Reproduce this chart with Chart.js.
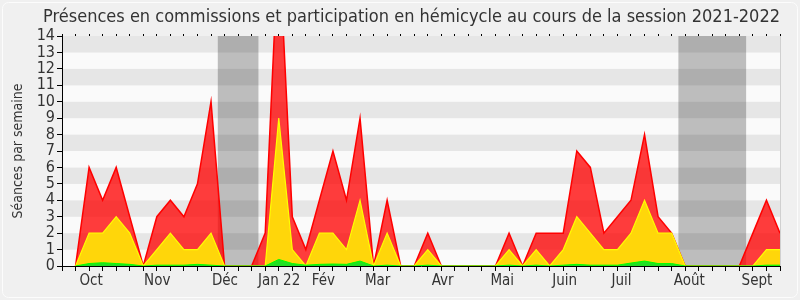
<!DOCTYPE html>
<html><head><meta charset="utf-8">
<script src="https://cdn.jsdelivr.net/npm/chart.js@4/dist/chart.umd.min.js"></script>
<style>html,body{margin:0;padding:0;background:#f0f0f0}</style>
</head><body>
<canvas id="c" width="800" height="300" style="width:800px;height:300px;display:block"></canvas>
<script>
// week index (one per week of the session)
const weeks = [0,1,2,3,4,5,6,7,8,9,10,11,12,13,14,15,16,17,18,19,20,21,22,23,24,25,26,27,28,29,30,31,32,33,34,35,36,37,38,39,40,41,42,43,44,45,46,47,48,49,50,51,52,53];
// total presences (commissions + hemicycle)
const presences = [null,0,6,4,6,3,0,3,4,3,5,10,0,0,0,2,20,3,1,4,7,4,9,0,4,0,0,2,0,0,0,0,0,2,0,2,2,2,7,6,2,3,4,8,3,2,0,0,0,0,0,2,4,2];
// participation in hemicycle
const participations = [null,0,2,2,3,2,0,1,2,1,1,2,0,0,0,0,9,1,0,2,2,1,4,0,2,0,0,1,0,0,0,0,0,1,0,1,0,1,3,2,1,1,2,4,2,2,0,0,0,0,0,0,1,1];
// interventions
const interventions = [null,0,0.15,0.2,0.15,0.1,0,0.05,0.05,0.05,0.1,0.05,0,0,0,0,0.4,0.15,0.05,0.1,0.12,0.1,0.3,0,0.05,0,0,0.05,0,0,0,0,0,0.05,0,0.05,0,0.05,0.1,0.05,0.05,0.05,0.18,0.3,0.15,0.15,0,0,0,0,0,0,0.05,0.05];
// month labels and their positions on the week axis
const monthLabels = ['Oct','Nov','Déc','Jan 22','Fév','Mar','Avr','Mai','Juin','Juil','Août','Sept'];
const monthPos = [2.15,7.03,12.03,16.03,19.3,23.3,28.1,32.5,37.1,41.3,46.3,51.3];
// parliamentary holidays (week ranges)
const holidayStart = [11.5,45.5];
const holidayEnd = [14.5,50.5];
const yTicks = [0,1,2,3,4,5,6,7,8,9,10,11,12,13,14];

const FONT = "'DejaVu Sans Condensed','DejaVu Sans',sans-serif";
const toPts = arr => arr.map((v,i)=>({x:weeks[i], y:v}));

const bgPlugin = {
  id:'bg',
  beforeDraw(chart){
    const {ctx, chartArea:a, scales} = chart;
    ctx.save();
    ctx.fillStyle = '#f0f0f0';
    ctx.fillRect(0,0,chart.width,chart.height);
    ctx.strokeStyle = '#fcfcfc';
    ctx.lineWidth = 1;
    ctx.beginPath();
    if (ctx.roundRect) ctx.roundRect(2.5,2.5,chart.width-5,chart.height-5,6); else ctx.rect(2.5,2.5,chart.width-5,chart.height-5);
    ctx.stroke();
    const y = scales.y;
    for (let i=0;i<yTicks.length-1;i++){
      const y0 = y.getPixelForValue(yTicks[i]), y1 = y.getPixelForValue(yTicks[i+1]);
      ctx.fillStyle = (i%2===1) ? '#e6e6e6' : '#fafafa';
      ctx.fillRect(a.left, y1, a.right-a.left, y0-y1);
    }
    const x = scales.x;
    ctx.fillStyle = 'rgba(0,0,0,0.245)';
    for (let k=0;k<holidayStart.length;k++){
      const x0 = x.getPixelForValue(holidayStart[k]), x1 = x.getPixelForValue(holidayEnd[k]);
      ctx.fillRect(x0, a.top, x1-x0, a.bottom-a.top);
    }
    ctx.strokeStyle = '#d0d0d0';
    ctx.beginPath(); ctx.moveTo(a.right+0.5,a.top); ctx.lineTo(a.right+0.5,a.bottom); ctx.stroke();
    ctx.restore();
  }
};

const isMonth = v => monthPos.indexOf(v) >= 0;

new Chart(document.getElementById('c'), {
  type:'line',
  data:{
    datasets:[
      {label:'Interventions', data:toPts(interventions), borderColor:'#00ff00', backgroundColor:'#22e022', borderWidth:1, fill:'origin', pointRadius:0, tension:0, order:1},
      {label:'Participations', data:toPts(participations), borderColor:'#ffff00', backgroundColor:'#ffd60a', borderWidth:1.2, fill:'origin', pointRadius:0, tension:0, order:2},
      {label:'Présences', data:toPts(presences), borderColor:'#ff0000', backgroundColor:'rgba(255,0,0,0.76)', borderWidth:1.5, fill:'origin', pointRadius:0, tension:0, order:3}
    ]
  },
  options:{
    responsive:false, animation:false, devicePixelRatio:1,
    layout:{padding:{left:10,right:20,top:0,bottom:0}},
    plugins:{
      legend:{display:false}, tooltip:{enabled:false},
      title:{display:true, align:'end', text:'Présences en commissions et participation en hémicycle au cours de la session 2021-2022', color:'#333', font:{family:FONT, size:18, weight:'normal'}, padding:{top:7,bottom:2}}
    },
    scales:{
      x:{type:'linear', position:'bottom', min:0, max:53,
        afterBuildTicks(s){ const t = weeks.concat(monthPos).sort((p,q)=>p-q); s.ticks = t.map(v=>({value:v})); },
        afterFit(s){ s.height = 34; },
        ticks:{autoSkip:false, maxRotation:0, padding:1, color:'#333', font:{family:FONT,size:15},
          callback(v){ const k = monthPos.indexOf(v); return k>=0 ? monthLabels[k] : ''; }},
        grid:{drawOnChartArea:false, drawTicks:true, tickLength:5, color:(c)=> (c.tick && isMonth(c.tick.value)) ? 'rgba(0,0,0,0)' : '#000'},
        border:{display:true, color:'#000', width:1}
      },
      x2:{type:'linear', position:'top', min:0, max:53,
        afterBuildTicks(s){ s.ticks = weeks.map(v=>({value:v})); },
        afterFit(s){ s.height = 5.4; },
        ticks:{display:false},
        grid:{drawOnChartArea:false, drawTicks:true, tickLength:2, color:'#000'},
        border:{display:false}
      },
      y:{min:0, max:14,
        afterBuildTicks(s){ s.ticks = yTicks.map(v=>({value:v})); },
        afterFit(s){ s.width = 52; },
        ticks:{autoSkip:false, color:'#333', padding:2, font:{family:FONT,size:16}},
        grid:{drawOnChartArea:false, drawTicks:true, tickLength:5, color:'#000'},
        border:{display:true, color:'#000', width:1},
        title:{display:true, text:'Séances par semaine', color:'#333', font:{family:FONT,size:14}, padding:{top:0,bottom:0}}
      }
    }
  },
  plugins:[bgPlugin]
});
</script>
</body></html>
